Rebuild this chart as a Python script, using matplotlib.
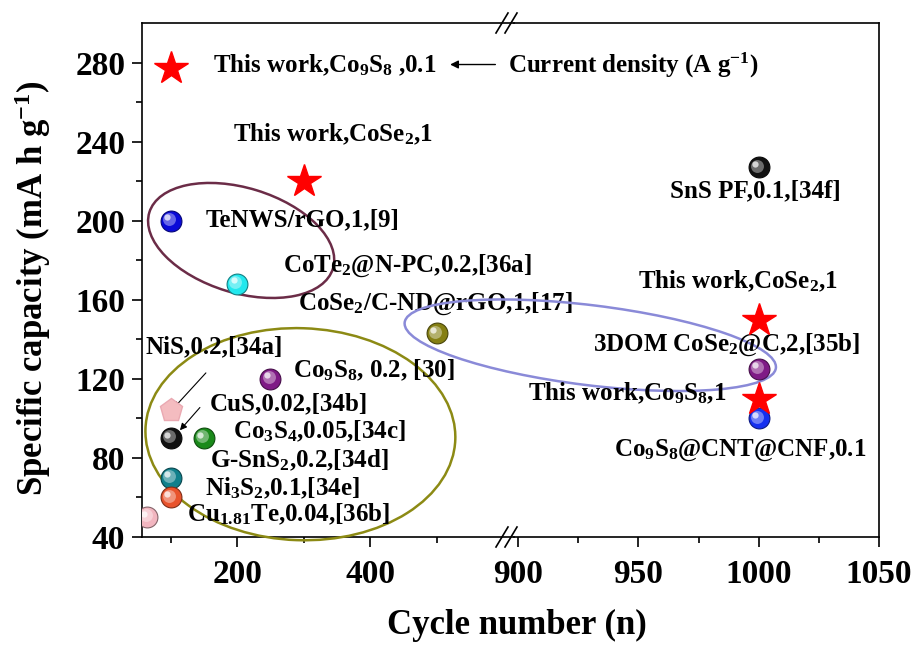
import matplotlib
matplotlib.use('Agg')
import matplotlib.pyplot as plt
from matplotlib.patches import Ellipse
from matplotlib.transforms import ScaledTranslation, offset_copy
from matplotlib.colors import to_rgb

plt.rcParams['font.family'] = 'Liberation Serif'
plt.rcParams['font.weight'] = 'bold'
plt.rcParams['mathtext.fontset'] = 'custom'
plt.rcParams['mathtext.rm'] = 'Liberation Serif:bold'
plt.rcParams['mathtext.it'] = 'Liberation Serif:italic:bold'
plt.rcParams['mathtext.bf'] = 'Liberation Serif:bold'

# this work (red stars)
star_x = [100, 300, 1000, 1000]
star_y = [277, 220, 150, 110]

# literature values (balls)
ball_x = [100, 200, 500, 250, 100, 150, 100, 100, 65, 1000, 1000, 1000]
ball_y = [200, 168, 143, 120, 90, 90, 70, 60, 50, 227, 125, 100]
ball_c = ['#0a0ad8', '#22e8ee', '#857f12', '#7f1a86', '#111111', '#1a8a1a',
          '#10808c', '#e8532c', '#f2b6c0', '#111111', '#7f1a86', '#1530f0']

# NiS (pentagon)
pent_x = [100]
pent_y = [104]

labels_left = ['This work,Co$_9$S$_8$ ,0.1', 'This work,CoSe$_2$,1', 'TeNWS/rGO,1,[9]',
               'CoTe$_2$@N-PC,0.2,[36a]', 'CoSe$_2$/C-ND@rGO,1,[17]', 'NiS,0.2,[34a]',
               'Co$_9$S$_8$, 0.2, [30]', 'CuS,0.02,[34b]', 'Co$_3$S$_4$,0.05,[34c]',
               'G-SnS$_2$,0.2,[34d]', 'Ni$_3$S$_2$,0.1,[34e]', 'Cu$_{1.81}$Te,0.04,[36b]']
labels_right = ['SnS PF,0.1,[34f]', 'This work,CoSe$_2$,1', '3DOM CoSe$_2$@C,2,[35b]',
                'This work,Co$_9$S$_8$,1', 'Co$_9$S$_8$@CNT@CNF,0.1']

fig = plt.figure(figsize=(9.18, 6.46), dpi=100)
ax1 = fig.add_axes([142/918, 1-537/646, (514-142)/918, 514/646])
ax2 = fig.add_axes([514/918, 1-537/646, (879-514)/918, 514/646], sharey=ax1)
ax2.patch.set_visible(False)


def pick(x):
    return ax1 if x < 700 else ax2


def ball(ax, x, y, c, ms=15):
    r, g, b = to_rgb(c)
    ax.plot(x, y, 'o', ms=ms, color=c, mec=(r*0.55, g*0.55, b*0.55), mew=0.8, zorder=5)
    # fake 3d shading
    for k, (f, m) in enumerate([(0.45, 0.62), (0.9, 0.3)]):
        lite = (r+(1-r)*f, g+(1-g)*f, b+(1-b)*f)
        tr = offset_copy(ax.transData, fig=fig, x=-1.3*(k+1), y=1.3*(k+1), units='points')
        ax.plot(x, y, 'o', ms=ms*m, color=lite, mew=0, alpha=0.85, transform=tr, zorder=6)


def ring(ax, cx, cy, w, h, ang, color):
    # ellipse sized in pixels, centred on a data point
    e = Ellipse((0, 0), w, h, angle=ang, fill=False, ec=color, lw=1.8,
                transform=ScaledTranslation(cx, cy, ax.transData), clip_on=False, zorder=3)
    ax.add_patch(e)


for x, y, c in zip(ball_x, ball_y, ball_c):
    ball(pick(x), x, y, c)
for x, y in zip(star_x, star_y):
    pick(x).plot(x, y, '*', ms=25, color='#ff0000', mec='#ff0000', zorder=5)
ax1.plot(pent_x, pent_y, 'p', ms=17, color='#f4bcc0', mec='#eaa9b2', zorder=5)

ring(ax1, 206, 190, 192, 105, -17, '#6b2c47')
ring(ax1, 295, 92, 310, 212, -2, '#8c8a14')
ring(ax2, 930, 137, 374, 80, -7, '#8a8ad8')

pos_left = [(164, 275), (194, 240), (153, 197), (269, 174), (292, 155), (62, 133),
            (284, 121), (159, 104), (194, 90), (159, 75), (152, 61), (125, 48)]
pos_right = [(963, 212), (950, 166), (931, 134), (904, 109), (940, 81)]
for s, (x, y) in zip(labels_left, pos_left):
    ax1.text(x, y, s, fontsize=18, ha='left', va='baseline', zorder=4)
for s, (x, y) in zip(labels_right, pos_right):
    ax2.text(x, y, s, fontsize=18, ha='left', va='baseline', zorder=4)

ax1.text(607, 275, 'Current density (A g$^{-1}$)', fontsize=18, ha='left', va='baseline')
ax1.annotate('', xy=(520, 279), xytext=(588, 279),
             arrowprops=dict(arrowstyle='-|>', color='k', lw=1, mutation_scale=12,
                             shrinkA=0, shrinkB=0))
ax1.annotate('', xy=(104, 105), xytext=(153, 123),
             arrowprops=dict(arrowstyle='-|>', color='k', lw=0.8, mutation_scale=10,
                             shrinkA=0, shrinkB=0))
ax1.annotate('', xy=(114, 94), xytext=(144, 105.5),
             arrowprops=dict(arrowstyle='-|>', color='k', lw=0.8, mutation_scale=10,
                             shrinkA=0, shrinkB=0))

# axes
ax1.set_xlim(57, 616)
ax2.set_xlim(898.3, 1050)
ax1.set_ylim(40, 300)
ax1.set_yticks(range(40, 281, 40))
ax1.set_yticks(range(60, 300, 40), minor=True)
ax1.set_xticks([200, 400])
ax1.set_xticks([100, 300, 500], minor=True)
ax2.set_xticks([900, 950, 1000, 1050])
ax2.set_xticks([925, 975, 1025], minor=True)

ax1.spines['right'].set_visible(False)
ax2.spines['left'].set_visible(False)
for ax in (ax1, ax2):
    for sp in ax.spines.values():
        sp.set_linewidth(1.2)
    ax.tick_params(which='major', direction='out', length=7, width=1.2, labelsize=24,
                   top=False, right=False)
    ax.tick_params(which='minor', direction='out', length=4, width=1.2, top=False, right=False)
    ax.tick_params(axis='x', which='major', pad=9)
ax1.tick_params(axis='y', which='major', pad=5)
ax2.tick_params(axis='y', which='both', left=False, labelleft=False)

# break marks
for yy in (0, 1):
    tr = ScaledTranslation(0, yy, ax2.transAxes)
    for x0 in (-18, -9):
        ax2.plot([x0, x0+12], [-10, 10], color='k', lw=1.2, transform=tr, clip_on=False, zorder=7)

fig.text(0.036, 1-288/646, 'Specific capacity (mA h g$^{-1}$)', rotation=90,
         ha='center', va='center', fontsize=25)
fig.text(517/918, 1-625/646, 'Cycle number (n)', ha='center', va='center', fontsize=25)

fig.savefig('out.png', dpi=100)
